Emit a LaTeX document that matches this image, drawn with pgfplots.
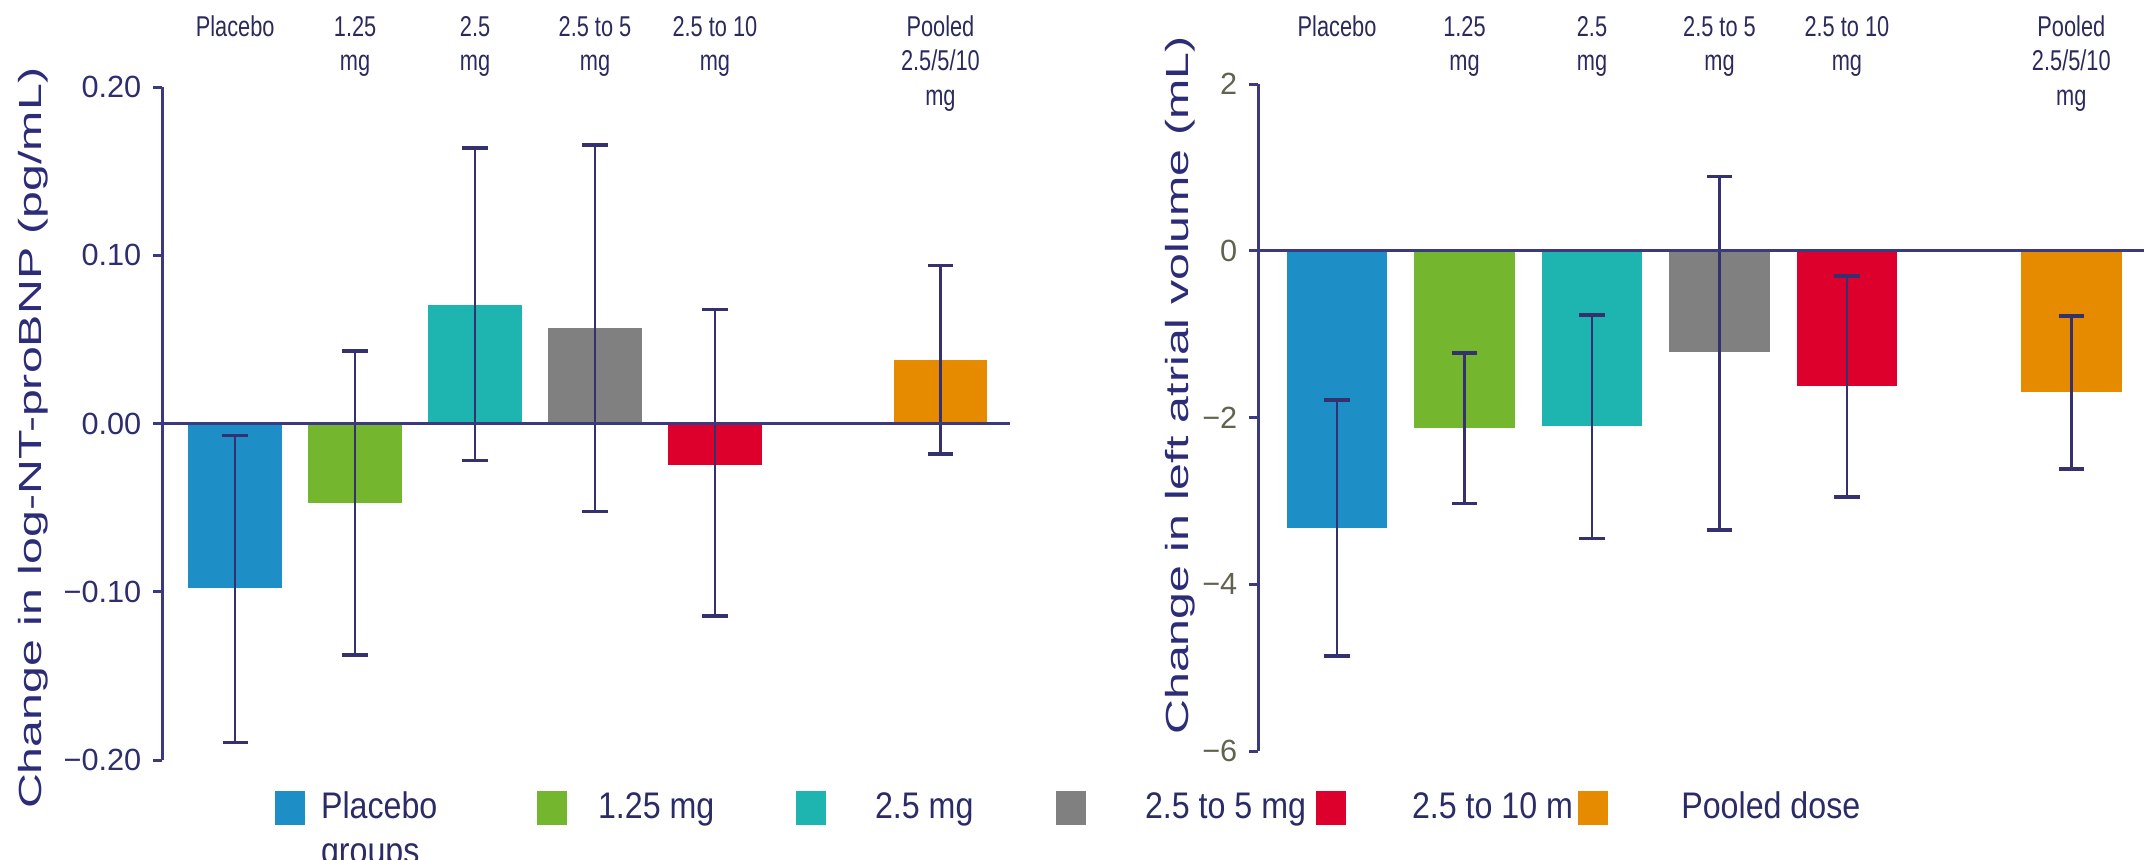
\documentclass[border=0pt]{standalone}
\usepackage{fontspec}
\setmainfont{Liberation Sans}
\newfontfamily\catfont[FakeStretch=0.76]{Liberation Sans}
\newfontfamily\legfont[FakeStretch=0.87]{Liberation Sans}
\newfontfamily\ylabfont[FakeStretch=1.51]{Liberation Sans}
\usepackage{pgfplots}
\pgfplotsset{compat=1.18}
\definecolor{cPla}{HTML}{1E8EC6}
\definecolor{cOne}{HTML}{74B72E}
\definecolor{cTwo}{HTML}{1EB4B0}
\definecolor{cFive}{HTML}{808080}
\definecolor{cTen}{HTML}{DE002C}
\definecolor{cPool}{HTML}{E68A00}
\definecolor{axcol}{HTML}{3B3A80}
\definecolor{errcol}{HTML}{35306E}
\definecolor{catcol}{HTML}{2A2A5C}
\definecolor{ylabcol}{HTML}{2D2C78}
\definecolor{tickL}{HTML}{2E2D6E}
\definecolor{tickR}{HTML}{62634E}
\definecolor{legcol}{HTML}{2B2B66}
\newcommand\lines[1]{\begin{tabular}[t]{@{}c@{}}#1\end{tabular}}
\newcommand\twol[2]{\smash{\begin{tabular}[t]{@{}l@{}}#1\\#2\end{tabular}}}
\pgfplotsset{
  common/.style={
    scale only axis, axis on top,
    axis y line*=left, axis x line*=top,
    x axis line style={draw=none},
    y axis line style={draw=axcol, line width=0.9pt},
    xtick style={draw=none},
    ytick style={draw=axcol, line width=0.9pt},
    tick align=outside, major tick length=2.7pt,
    xticklabel style={anchor=base, font=\catfont\fontsize{8.6}{10.4}\selectfont, text=catcol, yshift=12.6pt},
    yticklabel style={font=\fontsize{9.2}{11}\selectfont},
    extra y ticks={0}, extra y tick labels={},
    extra y tick style={grid=major, major grid style={draw=axcol, line width=0.9pt}},
    ylabel style={font=\ylabfont\fontsize{9.6}{11}\selectfont, text=ylabcol, anchor=center},
  },
  sq/.style={legend image code/.code={\fill[##1] (0pt,-1.1pt) rectangle (9pt,9.1pt);}},
  bb/.style={ybar, bar shift=0pt, draw=none, fill=#1, sq,
    error bars/y dir=both, error bars/y explicit,
    error bars/error bar style={draw=errcol, line width=0.75pt},
    error bars/error mark options={rotate=90, draw=errcol, line width=1.1pt, mark size=3.8pt}},
}
\begin{document}
\begin{tikzpicture}
\useasboundingbox (0,0) rectangle (643.2pt,257.7pt);
\begin{axis}[common,
  at={(48.6pt,29.7pt)}, anchor=south west,
  width=254.4pt, height=201.9pt,
  xmin=-0.61, xmax=6.46, ymin=-0.2, ymax=0.2,
  xtick={0,1,2,3,4,5.88},
  xticklabels={Placebo,\lines{1.25\\mg},\lines{2.5\\mg},\lines{2.5 to 5\\mg},\lines{2.5 to 10\\mg},\lines{Pooled\\2.5/5/10\\mg}},
  ytick={-0.2,-0.1,0,0.1,0.2},
  yticklabels={−0.20,−0.10,0.00,0.10,0.20},
  yticklabel style={text=tickL},
  ylabel={Change in log-NT-proBNP (pg/mL)},
  ylabel style={at={(rel axis cs:-0.152,0.478)}},
  legend columns=6,
  legend cell align=left,
  legend style={at={(rel axis cs:0.1333,-0.0461)}, anchor=north west,
    draw=none, fill=none, inner sep=0pt, outer sep=0pt, row sep=0pt,
    font=\legfont\fontsize{11.1}{13.5}\selectfont, text=legcol,
    /tikz/every even column/.style={column sep=0pt},
    /tikz/every odd column/.style={column sep=0pt},
    nodes={inner sep=0pt}},
]
\addplot[bar width=0.78, bb=cPla] coordinates {(0,-0.098) += (0,0.0909) -= (0,0.0915)};
\addlegendentry{\makebox[69.6pt][l]{\hspace{4.8pt}\twol{Placebo}{groups}}}
\addplot[bar width=0.78, bb=cOne] coordinates {(1,-0.0472) += (0,0.0902) -= (0,0.0903)};
\addlegendentry{\makebox[68.7pt][l]{\hspace{9.3pt}\smash{1.25 mg}}}
\addplot[bar width=0.78, bb=cTwo] coordinates {(2,0.0707) += (0,0.0931) -= (0,0.0927)};
\addlegendentry{\makebox[69pt][l]{\hspace{14.7pt}\smash{2.5 mg}}}
\addplot[bar width=0.78, bb=cFive] coordinates {(3,0.0568) += (0,0.1089) -= (0,0.109)};
\addlegendentry{\makebox[69pt][l]{\hspace{17.7pt}\smash{2.5 to 5 mg}}}
\addplot[bar width=0.78, bb=cTen] coordinates {(4,-0.0248) += (0,0.0925) -= (0,0.0895)};
\addlegendentry{\makebox[69.6pt][l]{\hspace{19.8pt}\smash{2.5 to 10 m}}}
\addplot[bar width=0.78, bb=cPool] coordinates {(5.88,0.0376) += (0,0.0564) -= (0,0.0556)};
\addlegendentry{\hspace{22pt}\smash{Pooled dose}}
\end{axis}
\begin{axis}[common,
  at={(377.4pt,32.4pt)}, anchor=south west,
  width=265.8pt, height=200.1pt,
  xmin=-0.62, xmax=6.33, ymin=-6, ymax=2,
  xtick={0,1,2,3,4,5.76},
  xticklabels={Placebo,\lines{1.25\\mg},\lines{2.5\\mg},\lines{2.5 to 5\\mg},\lines{2.5 to 10\\mg},\lines{Pooled\\2.5/5/10\\mg}},
  xticklabel style={yshift=-0.9pt},
  ytick={-6,-4,-2,0,2},
  yticklabels={−6,−4,−2,0,2},
  yticklabel style={text=tickR},
  ylabel={Change in left atrial volume (mL)},
  ylabel style={at={(rel axis cs:-0.088,0.548)}},
]
\addplot[bar width=0.79, bb=cPla] coordinates {(0,-3.32) += (0,1.53) -= (0,1.54)};
\addplot[bar width=0.79, bb=cOne] coordinates {(1,-2.13) += (0,0.90) -= (0,0.90)};
\addplot[bar width=0.79, bb=cTwo] coordinates {(2,-2.10) += (0,1.33) -= (0,1.35)};
\addplot[bar width=0.79, bb=cFive] coordinates {(3,-1.22) += (0,2.11) -= (0,2.13)};
\addplot[bar width=0.79, bb=cTen] coordinates {(4,-1.62) += (0,1.32) -= (0,1.33)};
\addplot[bar width=0.79, bb=cPool] coordinates {(5.76,-1.70) += (0,0.92) -= (0,0.92)};
\end{axis}
\end{tikzpicture}
\end{document}
